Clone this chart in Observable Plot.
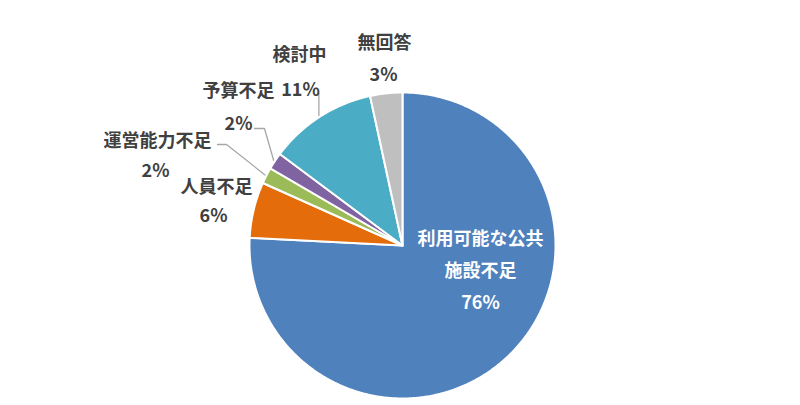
<!DOCTYPE html>
<html><head><meta charset="utf-8">
<script src="https://cdn.jsdelivr.net/npm/d3@7"></script>
<script src="https://cdn.jsdelivr.net/npm/@observablehq/plot@0.6"></script>
<style>body{margin:0;background:#fff;}</style>
</head><body><div id="chart"></div>
<script>
// ---- data ----
const categories = ["利用可能な公共施設不足", "人員不足", "運営能力不足", "予算不足", "検討中", "無回答"];
const values = [75.8, 5.9, 1.7, 1.8, 11.4, 3.4];
const percentLabels = values.map(v => Math.round(v) + "%");
const colors = ["#4F81BD", "#E46C0A", "#9BBB59", "#8064A2", "#4BACC6", "#BFBFBF"];

// ---- layout (pixels) ----
const W = 800, H = 405;
const CX = 402, CY = 245, R = 153;
const toX = px => (px - CX) / R, toY = py => (CY - py) / R;

const arcs = d3.pie().sort(null).value(d => d)(values);
const slicePts = [];
arcs.forEach((a, i) => {
  slicePts.push({i, x: 0, y: 0});
  const n = Math.max(4, Math.ceil((a.endAngle - a.startAngle) / (Math.PI / 360)));
  for (let k = 0; k <= n; k++) {
    const t = a.startAngle + (a.endAngle - a.startAngle) * k / n;
    slicePts.push({i, x: Math.sin(t), y: Math.cos(t)});
  }
  slicePts.push({i, x: 0, y: 0});
});
const midPt = i => { const t = (arcs[i].startAngle + arcs[i].endAngle) / 2; return [Math.sin(t), Math.cos(t)]; };

// outer label positions (pixels): name line and percent line
const nameLayout = {1: [216, 187], 2: [157, 141], 3: [238, 91], 4: [299, 55], 5: [384, 43]};
const pctLayout  = {1: [213, 216], 2: [155, 171], 3: [238, 124], 4: [300, 90], 5: [383, 75]};
const outer = [1, 2, 3, 4, 5];
const nameRows = outer.map(i => ({x: toX(nameLayout[i][0]), y: toY(nameLayout[i][1]), text: categories[i]}));
const pctRows = outer.map(i => ({x: toX(pctLayout[i][0]), y: toY(pctLayout[i][1]), text: percentLabels[i]}));
const innerRow = [{x: toX(480), y: toY(266), text: "利用可能な公共\n施設不足\n" + percentLabels[0]}];

// leader lines: from label (pixels) via elbow to slice mid-arc
const leaderSpec = [
  {i: 4, from: [null, 93]},
  {i: 3, from: [254, 128], elbow: [264, 128]},
  {i: 2, from: [217, 144], elbow: [226, 144]}
];
const leaderPts = [];
leaderSpec.forEach(s => {
  const [mx, my] = midPt(s.i);
  leaderPts.push({g: s.i, x: s.from[0] == null ? mx * 1.01 : toX(s.from[0]), y: toY(s.from[1])});
  if (s.elbow) leaderPts.push({g: s.i, x: toX(s.elbow[0]), y: toY(s.elbow[1])});
  leaderPts.push({g: s.i, x: mx * 1.01, y: my * 1.01});
});

const font = "'Noto Sans CJK JP', 'Noto Sans', sans-serif";
const chart = Plot.plot({
  width: W, height: H, margin: 0,
  x: {domain: [toX(0), toX(W)], range: [0, W], axis: null},
  y: {domain: [toY(H), toY(0)], range: [H, 0], axis: null},
  style: {fontFamily: font, background: "white"},
  marks: [
    Plot.line(slicePts, {x: "x", y: "y", z: "i", fill: d => colors[d.i], stroke: "white", strokeWidth: 2, strokeLinejoin: "round", curve: "linear"}),
    Plot.line(leaderPts, {x: "x", y: "y", z: "g", stroke: "#A6A6A6", strokeWidth: 1.3, curve: "linear"}),
    Plot.text(nameRows, {x: "x", y: "y", text: "text", fontSize: 18, fontWeight: 600, fill: "#404040"}),
    Plot.text(pctRows, {x: "x", y: "y", text: "text", fontSize: 18, fontWeight: 600, fill: "#404040"}),
    Plot.text(innerRow, {x: "x", y: "y", text: "text", fontSize: 18, fontWeight: 600, fill: "white", lineHeight: 1.78})
  ]
});
document.getElementById("chart").append(chart);
</script>
</body></html>
